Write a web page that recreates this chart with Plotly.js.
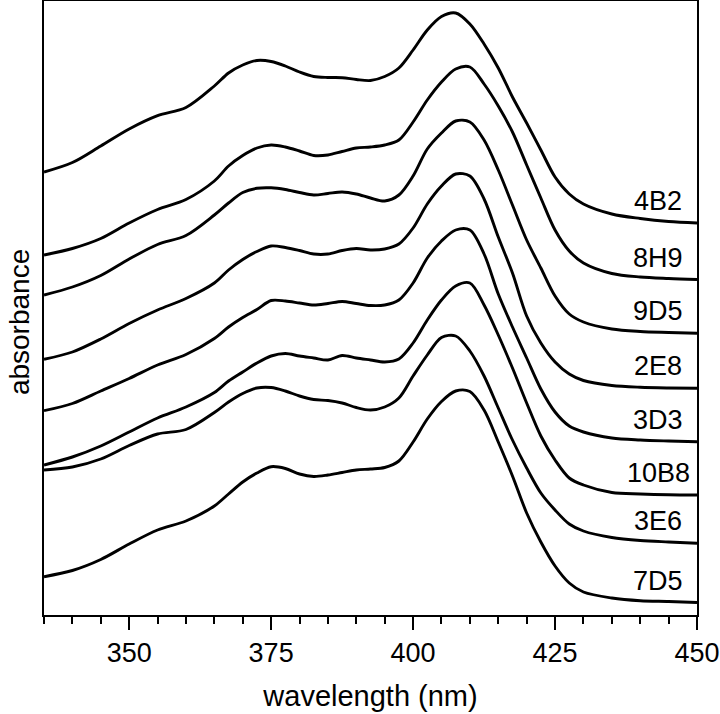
<!DOCTYPE html>
<html>
<head>
<meta charset="utf-8">
<script src="https://cdn.plot.ly/plotly-3.0.1.min.js"></script>
<style>
html, body { margin: 0; padding: 0; background: #ffffff; }
#chart { width: 720px; height: 714px; }
</style>
</head>
<body>
<div id="chart"></div>
<script>
// Wavelength grid (nm)
const wavelength = [335, 340, 345, 350, 355, 360, 365, 367.5, 370, 372.5, 375, 377.5, 380, 382.5, 385, 387.5, 390, 392.5, 395, 397.5, 400, 402.5, 405, 407.5, 410, 412.5, 415, 417.5, 420, 422.5, 425, 427.5, 430, 435, 440, 445, 450];

// Stacked (offset) absorbance spectra, arbitrary units
const abs_4B2 = [4.43, 4.525, 4.69, 4.86, 4.993, 5.075, 5.29, 5.42, 5.50, 5.545, 5.535, 5.49, 5.43, 5.385, 5.375, 5.373, 5.355, 5.345, 5.385, 5.47, 5.65, 5.85, 5.985, 6.02, 5.91, 5.71, 5.47, 5.18, 4.92, 4.65, 4.38, 4.21, 4.11, 4.01, 3.965, 3.935, 3.92];
const abs_8H9 = [3.60, 3.665, 3.765, 3.92, 4.055, 4.155, 4.34, 4.49, 4.595, 4.67, 4.70, 4.68, 4.64, 4.595, 4.60, 4.635, 4.67, 4.68, 4.70, 4.75, 4.93, 5.15, 5.33, 5.46, 5.48, 5.31, 5.09, 4.83, 4.50, 4.17, 3.85, 3.64, 3.52, 3.415, 3.38, 3.365, 3.355];
const abs_9D5 = [3.20, 3.28, 3.395, 3.56, 3.705, 3.795, 4.00, 4.12, 4.225, 4.267, 4.272, 4.255, 4.225, 4.20, 4.215, 4.23, 4.21, 4.17, 4.14, 4.20, 4.39, 4.66, 4.82, 4.94, 4.93, 4.75, 4.45, 4.10, 3.75, 3.47, 3.19, 3.01, 2.93, 2.86, 2.835, 2.825, 2.817];
const abs_2E8 = [2.557, 2.63, 2.76, 2.915, 3.05, 3.165, 3.32, 3.45, 3.555, 3.635, 3.69, 3.675, 3.645, 3.61, 3.61, 3.645, 3.665, 3.65, 3.66, 3.71, 3.87, 4.11, 4.29, 4.41, 4.39, 4.16, 3.78, 3.42, 2.99, 2.72, 2.53, 2.41, 2.345, 2.295, 2.277, 2.27, 2.267];
const abs_3D3 = [2.043, 2.115, 2.24, 2.365, 2.50, 2.605, 2.765, 2.88, 2.975, 3.055, 3.145, 3.14, 3.12, 3.10, 3.115, 3.135, 3.115, 3.095, 3.10, 3.15, 3.32, 3.57, 3.74, 3.85, 3.85, 3.61, 3.21, 2.88, 2.57, 2.26, 2.03, 1.89, 1.83, 1.77, 1.75, 1.74, 1.733];
const abs_10B8 = [1.50, 1.58, 1.69, 1.83, 1.97, 2.08, 2.225, 2.34, 2.43, 2.52, 2.59, 2.615, 2.59, 2.57, 2.55, 2.595, 2.57, 2.55, 2.53, 2.56, 2.72, 2.95, 3.15, 3.29, 3.32, 3.10, 2.80, 2.47, 2.12, 1.79, 1.55, 1.37, 1.30, 1.225, 1.21, 1.202, 1.20];
const abs_3E6 = [1.45, 1.48, 1.56, 1.695, 1.81, 1.855, 2.025, 2.13, 2.215, 2.27, 2.275, 2.24, 2.19, 2.155, 2.145, 2.12, 2.075, 2.05, 2.08, 2.17, 2.39, 2.60, 2.775, 2.79, 2.64, 2.39, 2.07, 1.75, 1.47, 1.22, 1.05, 0.91, 0.84, 0.775, 0.745, 0.73, 0.717];
const abs_7D5 = [0.383, 0.445, 0.555, 0.71, 0.85, 0.94, 1.09, 1.21, 1.33, 1.42, 1.483, 1.465, 1.41, 1.385, 1.40, 1.425, 1.45, 1.46, 1.475, 1.54, 1.73, 1.96, 2.135, 2.24, 2.235, 2.05, 1.73, 1.39, 1.02, 0.73, 0.49, 0.32, 0.23, 0.17, 0.143, 0.135, 0.125];

const sampleNames = ['4B2', '8H9', '9D5', '2E8', '3D3', '10B8', '3E6', '7D5'];
const spectra = [abs_4B2, abs_8H9, abs_9D5, abs_2E8, abs_3D3, abs_10B8, abs_3E6, abs_7D5];

const FONT = 'Liberation Sans, Arial, Helvetica, sans-serif';

const traces = spectra.map((ys, i) => ({
  x: wavelength,
  y: ys,
  type: 'scatter',
  mode: 'lines',
  name: sampleNames[i],
  line: { color: '#000000', width: 2.9, shape: 'spline', smoothing: 0.9 },
  hoverinfo: 'skip',
  showlegend: false
}));

const annotations = spectra.map((ys, i) => ({
  x: wavelength[wavelength.length - 1],
  y: ys[ys.length - 1],
  xref: 'x', yref: 'y',
  text: sampleNames[i],
  showarrow: false,
  xanchor: 'center', yanchor: 'middle',
  xshift: -39, yshift: 22,
  font: { family: FONT, size: 27, color: '#000000' }
}));

// y-axis label (placed as a rotated annotation to match the reference position)
annotations.push({
  xref: 'paper', yref: 'paper',
  x: 0, y: 0.477,
  xshift: -25,
  text: 'absorbance',
  textangle: -90,
  showarrow: false,
  xanchor: 'center', yanchor: 'middle',
  font: { family: FONT, size: 28, color: '#000000' }
});

const layout = {
  width: 720,
  height: 714,
  margin: { l: 44, r: 23, t: 1, b: 99 },
  paper_bgcolor: '#ffffff',
  plot_bgcolor: '#ffffff',
  showlegend: false,
  font: { family: FONT, size: 27, color: '#000000' },
  xaxis: {
    range: [335, 450],
    tick0: 350,
    dtick: 25,
    ticks: 'outside',
    ticklen: 13,
    tickwidth: 2,
    tickcolor: '#000000',
    minor: { dtick: 5, tick0: 335, ticks: 'outside', ticklen: 7, tickwidth: 2, tickcolor: '#000000', showgrid: false },
    showline: true,
    linecolor: '#000000',
    linewidth: 2,
    mirror: true,
    showgrid: false,
    zeroline: false,
    tickfont: { family: FONT, size: 27, color: '#000000' },
    title: { text: 'wavelength (nm)', font: { family: FONT, size: 29, color: '#000000' }, standoff: 18 },
    automargin: false
  },
  yaxis: {
    range: [0, 6.14],
    showticklabels: false,
    ticks: '',
    showline: true,
    linecolor: '#000000',
    linewidth: 2,
    mirror: true,
    showgrid: false,
    zeroline: false,
    automargin: false
  },
  annotations: annotations
};

Plotly.newPlot('chart', traces, layout, { staticPlot: true, displayModeBar: false });
</script>
</body>
</html>
